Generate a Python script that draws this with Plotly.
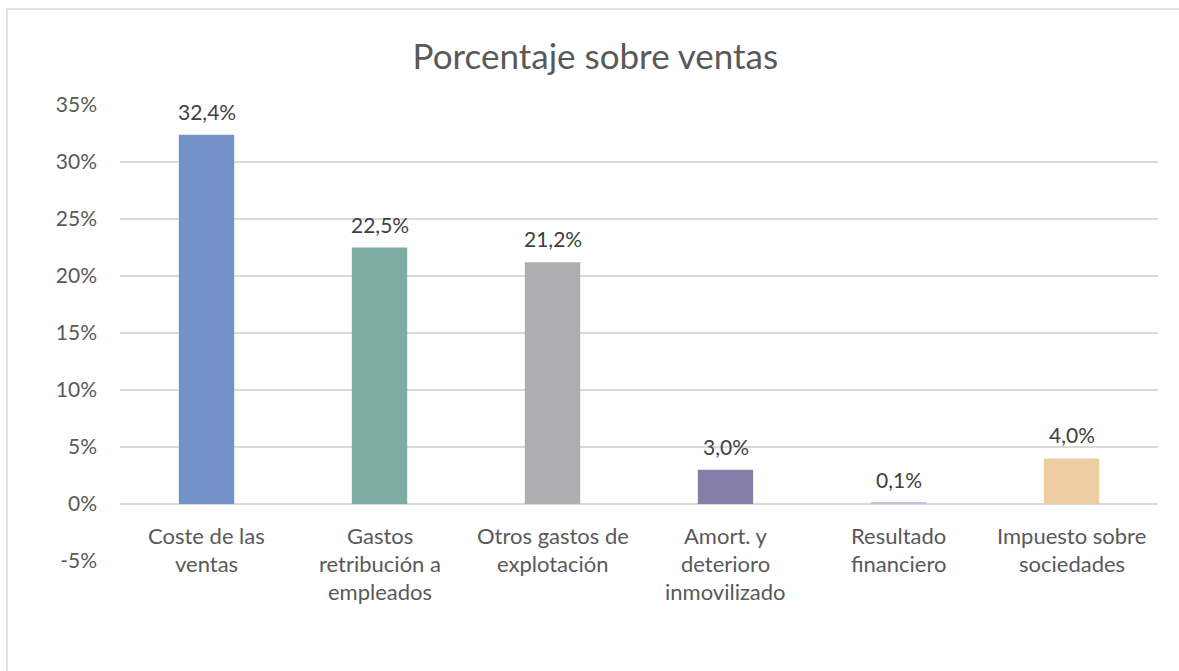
import plotly.graph_objects as go

categories = ["Coste de las<br>ventas", "Gastos<br>retribución a<br>empleados", "Otros gastos de<br>explotación",
              "Amort. y<br>deterioro<br>inmovilizado", "Resultado<br>financiero", "Impuesto sobre<br>sociedades"]
values = [32.4, 22.5, 21.2, 3.0, 0.1, 4.0]
labels = ["32,4%", "22,5%", "21,2%", "3,0%", "0,1%", "4,0%"]
colors = ["#7393C8", "#7FABA5", "#ADADB2", "#8680A8", "#C9C1DA", "#EECDA3"]
tick_vals = [-5, 0, 5, 10, 15, 20, 25, 30, 35]
tick_text = ["-5%", "0%", "5%", "10%", "15%", "20%", "25%", "30%", "35%"]

FONT = "Lato"
TXT = "#595959"

xs = list(range(len(categories)))
fig = go.Figure(go.Bar(x=xs, y=values, marker_color=colors, marker_line_width=0, hoverinfo="skip"))

ann = []
for x, v, t in zip(xs, values, labels):
    ann.append(dict(x=x, y=v, text=t, showarrow=False, yanchor="bottom", yshift=9,
                    font=dict(family=FONT, size=21, color="#404040")))
for x, c in zip(xs, categories):
    for i, line in enumerate(c.split("<br>")):
        ann.append(dict(x=x, y=0, text=line, showarrow=False, yanchor="middle",
                        yshift=-31 - 28 * i, font=dict(family=FONT, size=22, color=TXT)))

PL, PR, PT, PB = 120, 21, 105, 110
pw, ph = 1179 - PL - PR, 671 - PT - PB

fig.update_layout(
    width=1179, height=671,
    margin=dict(l=PL, r=PR, t=PT, b=PB),
    paper_bgcolor="white", plot_bgcolor="white",
    bargap=0.68, showlegend=False,
    title=dict(text="Porcentaje sobre ventas", x=0.505, xanchor="center", y=1 - 57 / 671, yanchor="middle",
               font=dict(family=FONT, size=35, color=TXT)),
    xaxis=dict(range=[-0.5, 5.5], showticklabels=False, showgrid=False, zeroline=False, fixedrange=True),
    yaxis=dict(range=[-5, 35], tickvals=tick_vals, ticktext=tick_text, showgrid=True, gridcolor="#D9D9D9",
               gridwidth=1.5, zeroline=False, ticklabelstandoff=22, fixedrange=True,
               tickfont=dict(family=FONT, size=21, color=TXT)),
    annotations=ann,
    shapes=[dict(type="rect", xref="paper", yref="paper", x0=-(PL - 7) / pw, x1=1.1, y0=-0.4, y1=1 + (PT - 9) / ph,
                 line=dict(color="#D9D9D9", width=1.5), fillcolor="rgba(0,0,0,0)", layer="below")],
)
fig.update_traces(cliponaxis=False)
fig.write_html("out.html", config={"displayModeBar": False},
               post_script="document.body.style.margin='0';document.body.style.overflow='hidden';")
